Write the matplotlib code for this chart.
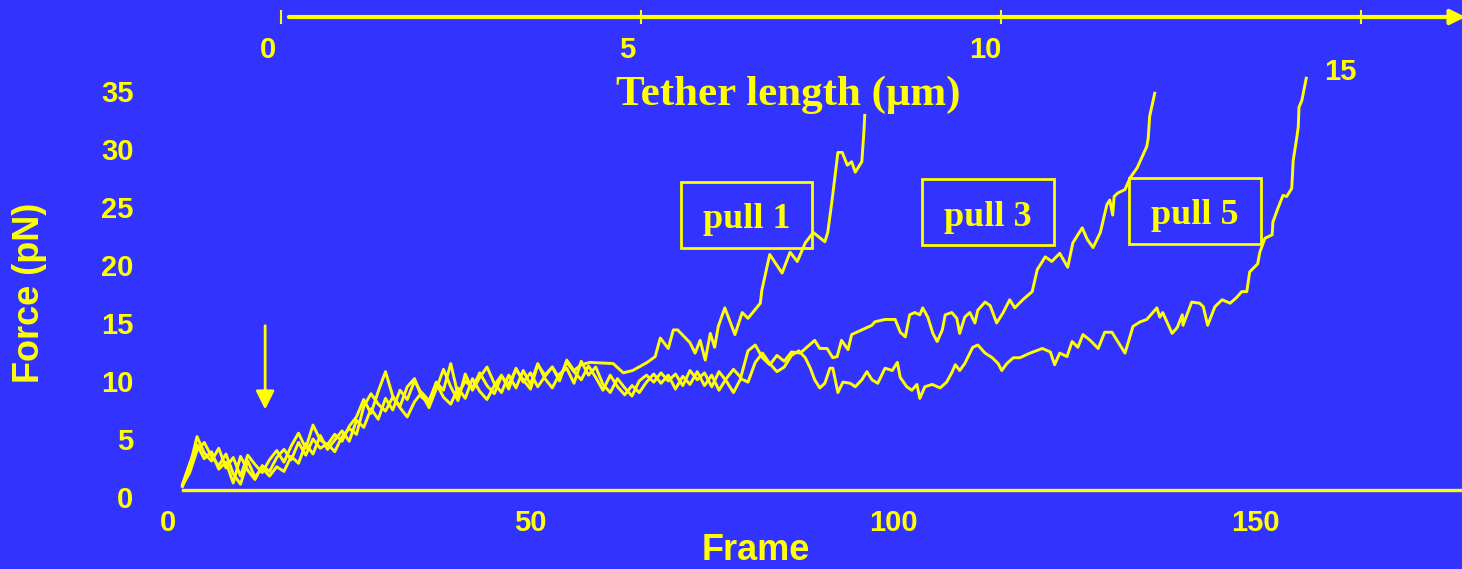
import matplotlib
matplotlib.use("Agg")
import matplotlib.pyplot as plt
import matplotlib.transforms as mtransforms
from matplotlib.patches import Rectangle

# цвета слайда
bg = '#3333ff'
yel = '#ffff00'

# pull 1 (frame, force pN)
pull1_frame = [2, 3, 4, 5, 6, 7, 8, 9, 10, 11, 12, 13, 14, 15, 16, 17, 18, 19, 20, 21, 22, 23, 24, 25,
               26, 27, 28, 29, 30, 31, 32, 33, 34, 35, 36, 37, 38, 39, 40, 41, 42, 43, 44, 45, 46, 47,
               48, 49, 50, 51, 52, 53, 54, 55, 56, 57, 58.2, 61.4, 62.8, 64.1, 66.1, 67.2, 67.9, 69.0,
               69.7, 70.3, 72.0, 72.7, 73.4, 74.1, 74.8, 75.4, 75.9, 76.8, 78.2, 79.2, 80.0, 81.7, 81.9,
               83.0, 84.7, 85.8, 86.8, 87.9, 89.0, 90.6, 91.0, 91.6, 92.4, 93.0, 93.7, 94.3, 94.8, 95.7,
               96.0, 96.1]
pull1_force = [0.3, 2.0, 4.6, 3.2, 2.5, 3.6, 1.9, 2.8, 1.2, 3.0, 2.2, 1.5, 2.6, 3.4, 2.4, 3.8, 4.9, 3.6,
               5.6, 4.3, 3.9, 4.8, 4.2, 5.5, 6.3, 7.8, 6.6, 8.5, 10.2, 8.1, 7.2, 8.9, 9.6, 8.0, 7.5, 9.3,
               8.6, 10.9, 8.2, 9.4, 8.8, 10.1, 9.0, 8.3, 9.8, 9.1, 10.4, 9.5, 8.7, 10.8, 9.9, 10.6, 9.4,
               11.2, 10.3, 10.8, 11.0, 10.9, 10.1, 10.3, 11.0, 11.5, 13.1, 12.2, 13.8, 13.8, 12.7, 11.8,
               12.9, 11.2, 13.5, 12.3, 14.1, 15.7, 13.4, 15.3, 14.8, 16.1, 17.2, 20.3, 18.7, 20.5, 19.7,
               21.3, 22.2, 21.4, 22.2, 25.0, 29.1, 29.1, 28.0, 28.3, 27.4, 28.3, 31.0, 32.3]

# pull 3
pull3_frame = [2, 3, 4, 5, 6, 7, 8, 9, 10, 11, 12, 13, 14, 15, 16, 17, 18, 19, 20, 21, 22, 23, 24, 25,
               26, 27, 28, 29, 30, 31, 32, 33, 34, 35, 36, 37, 38, 39, 40, 41, 42, 43, 44, 45, 46, 47,
               48, 49, 50, 51, 52, 53, 54, 55, 56, 57, 58, 59, 60, 61, 62, 63, 64, 65, 66, 67, 68, 69,
               70, 71, 72, 73, 74, 75, 76, 77, 78, 79, 80, 81, 82, 83, 84, 85, 86, 87.2, 88.1, 89.2,
               89.9, 90.9, 91.7, 92.3, 92.9, 93.8, 94.3, 95.7, 97.1, 97.5, 98.9, 100.3, 101.0, 101.7,
               102.3, 103.0, 103.7, 104.1, 104.8, 105.5, 106.1, 106.8, 107.2, 108.1, 108.8, 109.2,
               109.9, 110.6, 111.3, 111.7, 112.7, 113.4, 114.3, 115.2, 116.1, 116.8, 117.9, 119.2,
               119.9, 121.0, 121.9, 123.0, 124.1, 124.8, 126.1, 126.8, 127.6, 128.6, 129.5, 129.9,
               130.3, 130.5, 131.0, 132.0, 132.7, 133.7, 135.0, 135.2, 135.4, 136.1]
pull3_force = [0.5, 2.3, 3.9, 2.7, 3.3, 1.8, 2.4, 0.6, 2.9, 1.7, 0.9, 2.1, 1.6, 2.8, 3.5, 2.6, 4.1, 3.0,
               4.4, 3.6, 4.0, 3.3, 4.6, 5.3, 4.8, 7.2, 8.3, 7.4, 6.8, 8.0, 7.1, 6.3, 7.6, 8.4, 7.7, 9.2,
               8.0, 7.4, 8.8, 7.9, 9.6, 8.5, 7.8, 9.0, 9.9, 8.7, 10.5, 9.3, 10.1, 8.9, 9.8, 10.6, 9.6,
               11.0, 10.2, 9.5, 10.7, 9.7, 8.6, 9.9, 8.9, 8.2, 9.0, 8.4, 9.3, 10.0, 9.2, 9.9, 8.7, 9.8,
               9.1, 10.2, 9.0, 9.9, 8.6, 9.6, 10.4, 9.7, 12.0, 12.5, 11.4, 10.8, 11.6, 11.1, 11.9, 11.8,
               12.3, 12.9, 12.2, 12.2, 11.4, 11.5, 12.9, 12.1, 13.4, 13.8, 14.2, 14.5, 14.7, 14.7, 13.6,
               13.2, 15.1, 15.3, 15.1, 15.7, 14.9, 13.5, 12.8, 13.8, 15.1, 15.3, 14.8, 13.5, 14.9, 15.3,
               14.4, 15.5, 16.2, 15.9, 14.4, 15.3, 16.4, 15.7, 16.4, 17.1, 19.0, 20.1, 19.7, 20.4, 19.2,
               21.3, 22.6, 21.6, 20.9, 22.2, 24.6, 25.0, 23.7, 25.3, 25.6, 25.9, 26.9, 27.8, 29.6, 30.3,
               32.2, 34.2]

# pull 5
pull5_frame = [2, 3, 4, 5, 6, 7, 8, 9, 10, 11, 12, 13, 14, 15, 16, 17, 18, 19, 20, 21, 22, 23, 24, 25,
               26, 27, 28, 29, 30, 31, 32, 33, 34, 35, 36, 37, 38, 39, 40, 41, 42, 43, 44, 45, 46, 47,
               48, 49, 50, 51, 52, 53, 54, 55, 56, 57, 58, 59, 60, 61, 62, 63, 64, 65, 66, 67, 68, 69,
               70, 71, 72, 73, 74, 75, 76, 77, 78, 79, 80, 81, 82, 83, 84, 85, 86, 87, 87.9, 88.6, 89.2,
               89.9, 90.6, 91.3, 91.7, 92.4, 93.1, 94.1, 94.8, 95.7, 96.4, 97.1, 97.9, 98.9, 99.9,
               100.6, 101.0, 101.9, 102.6, 103.3, 103.7, 104.4, 105.4, 106.5, 107.4, 108.1, 108.6,
               109.2, 109.9, 111.0, 111.7, 112.7, 113.7, 114.5, 115.0, 115.7, 116.6, 117.5, 118.9,
               120.6, 121.7, 122.3, 123.0, 124.0, 124.7, 125.5, 126.2, 127.2, 128.3, 129.2, 130.2,
               132.0, 133.1, 134.1, 135.0, 136.4, 136.8, 137.2, 138.5, 139.2, 139.9, 140.0, 141.2,
               142.3, 142.8, 143.4, 144.4, 145.4, 146.5, 147.4, 148.1, 148.8, 149.2, 150.3, 150.6,
               151.3, 152.3, 152.4, 153.1, 153.8, 154.3, 155.0, 155.2, 155.7, 155.9, 156.0, 156.4,
               157.0]
pull5_force = [0.4, 1.5, 3.4, 4.1, 2.9, 2.1, 3.1, 1.4, 0.5, 2.5, 1.1, 1.9, 1.2, 2.0, 1.6, 2.9, 2.3, 4.0,
               3.1, 4.7, 3.5, 4.3, 5.1, 4.2, 6.0, 5.4, 7.0, 6.1, 7.9, 6.9, 8.6, 7.8, 9.4, 8.3, 7.1, 8.7,
               10.4, 8.9, 7.7, 10.0, 8.6, 9.7, 10.6, 9.2, 8.4, 9.9, 8.8, 10.3, 9.1, 10.9, 9.6, 8.8,
               10.0, 10.5, 9.2, 11.1, 9.9, 10.6, 9.1, 8.4, 9.6, 8.8, 8.1, 9.4, 9.9, 9.3, 10.1, 9.4,
               10.0, 9.0, 10.3, 9.5, 10.1, 8.9, 10.2, 9.4, 8.4, 9.6, 9.3, 11.0, 11.8, 10.9, 10.2, 10.6,
               11.6, 12.0, 11.4, 10.5, 9.5, 8.8, 9.2, 10.5, 10.5, 8.4, 9.3, 9.2, 8.9, 9.5, 10.2, 9.5,
               9.2, 10.5, 10.3, 11.0, 9.7, 8.9, 8.6, 9.1, 7.9, 8.9, 9.1, 8.8, 9.3, 10.1, 10.8, 10.3,
               10.9, 12.3, 12.5, 11.8, 11.4, 10.9, 10.3, 10.9, 11.4, 11.4, 11.8, 12.2, 11.9, 10.8,
               11.8, 11.5, 12.8, 12.3, 13.4, 12.9, 12.2, 13.6, 13.6, 11.8, 14.1, 14.5, 14.7, 15.7,
               14.9, 15.3, 13.5, 14.0, 15.1, 14.2, 16.2, 16.1, 15.8, 14.2, 15.8, 16.4, 16.1, 16.6,
               17.1, 17.1, 18.8, 19.5, 20.5, 21.7, 22.0, 23.1, 24.3, 25.4, 25.3, 26.0, 28.4, 30.4,
               31.3, 33.0, 33.6, 35.5]

frame_ticks = [0, 50, 100, 150]
force_ticks = [0, 5, 10, 15, 20, 25, 30, 35]
tether_ticks = [0, 5, 10, 15]
box_labels = ['pull 1', 'pull 3', 'pull 5']

sans = 'Liberation Sans'
serif = 'Liberation Serif'

fig = plt.figure(figsize=(14.62, 5.69), dpi=100, facecolor=bg)
ax = fig.add_axes([168 / 1462, 79 / 569, 1294 / 1462, 37 * 11.6 / 569])
ax.set_facecolor(bg)

for fr, fo in [(pull1_frame, pull1_force), (pull3_frame, pull3_force), (pull5_frame, pull5_force)]:
    ax.plot(fr, fo, color=yel, lw=2.1, clip_on=False)

ax.set_xlim(0, 1294 / 7.25)
ax.set_ylim(0, 37)
for s in ['top', 'right', 'left']:
    ax.spines[s].set_visible(False)
ax.spines['bottom'].set_color(yel)
ax.spines['bottom'].set_linewidth(2.4)
ax.spines['bottom'].set_bounds(2, 1294 / 7.25)

ax.set_xticks(frame_ticks)
ax.set_yticks(force_ticks)
ax.tick_params(length=0, colors=yel)
ax.tick_params(axis='x', pad=14)
ax.tick_params(axis='y', pad=25)
for lab in ax.get_xticklabels() + ax.get_yticklabels():
    lab.set_fontfamily(sans)
    lab.set_fontweight('bold')
    lab.set_fontsize(21)
# подписи оси Y на слайде чуть ниже данных
off = mtransforms.ScaledTranslation(0, -0.07, fig.dpi_scale_trans)
for lab in ax.get_yticklabels():
    lab.set_transform(lab.get_transform() + off)

fig.text(30 / 1462, 1 - 293 / 569, 'Force (pN)', color=yel, fontsize=26, fontweight='bold',
         fontfamily=sans, rotation=90, ha='center', va='center')
fig.text(756 / 1462, 1 - 550 / 569, 'Frame', color=yel, fontsize=26, fontweight='bold',
         fontfamily=sans, ha='center', va='center')

# стрелка
ax.annotate('', xy=(13.4, 6.7), xytext=(13.4, 14.4),
            arrowprops=dict(arrowstyle='-|>', color=yel, lw=2, mutation_scale=28))

# верхняя ось: длина нити
ax2 = fig.add_axes([281 / 1462, 1 - 17 / 569, (1462 - 281) / 1462, 0.001])
ax2.set_xlim(0, (1462 - 281) / 72.0)
ax2.set_ylim(0, 1)
ax2.patch.set_visible(False)
for s in ax2.spines.values():
    s.set_visible(False)
ax2.set_yticks([])
ax2.set_xticks(tether_ticks)
ax2.tick_params(axis='x', direction='inout', length=10, width=1.5, colors=yel, labelbottom=False)
ax2.annotate('', xy=(16.45, 0), xytext=(0.11, 0),
             arrowprops=dict(arrowstyle='-|>', color=yel, lw=3, mutation_scale=22,
                             shrinkA=0, shrinkB=0), annotation_clip=False)

tlab_pos = [(268, 50), (627, 50), (985, 50), (1340, 72)]
for t, (px, py) in zip(tether_ticks, tlab_pos):
    fig.text(px / 1462, 1 - py / 569, str(t), color=yel, fontsize=21, fontweight='bold',
             fontfamily=sans, ha='center', va='center')
fig.text(788 / 1462, 1 - 95 / 569, 'Tether length (\u03bcm)', color=yel, fontsize=31,
         fontweight='bold', fontfamily=serif, ha='center', va='center')

# рамки с подписями
boxes = [(681, 182, 812, 248), (922, 179, 1054, 245), (1129, 178, 1261, 244)]
for name, (x0, y0, x1, y1) in zip(box_labels, boxes):
    fig.patches.append(Rectangle((x0 / 1462, 1 - y1 / 569), (x1 - x0) / 1462, (y1 - y0) / 569,
                                 transform=fig.transFigure, fill=False, ec=yel, lw=2))
    fig.text((x0 + x1) / 2 / 1462, 1 - ((y0 + y1) / 2 + 5) / 569, name, color=yel, fontsize=26,
             fontweight='bold', fontfamily=serif, ha='center', va='center')

fig.savefig('out.png', dpi=100, facecolor=bg)
